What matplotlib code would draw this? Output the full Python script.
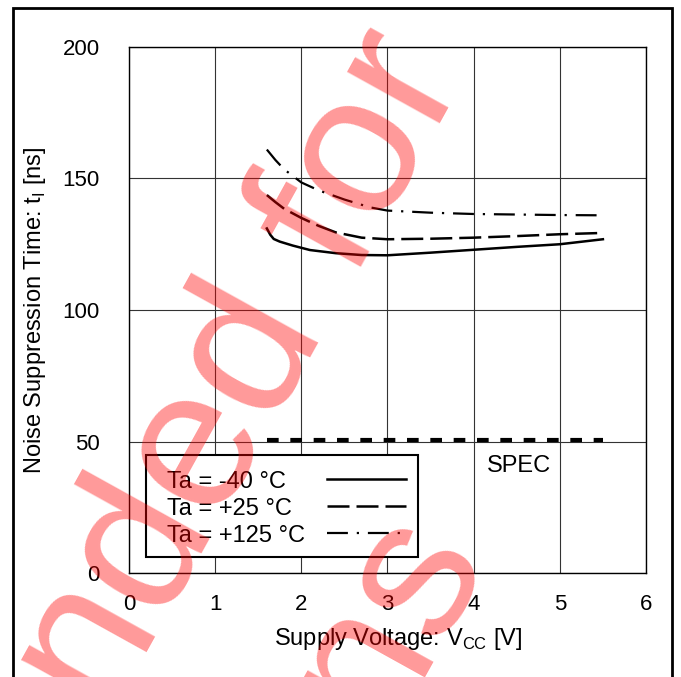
"""
Noise suppression time vs supply voltage (datasheet characteristic curve).
"""
import matplotlib

matplotlib.use("Agg")
import matplotlib.pyplot as plt
from matplotlib.patches import Rectangle

plt.rcParams["font.family"] = ["Liberation Sans", "DejaVu Sans"]
plt.rcParams["mathtext.fontset"] = "custom"
plt.rcParams["mathtext.rm"] = "Liberation Sans"

# curves
vcc_m40 = [1.6, 1.64, 1.68, 1.75, 1.9, 2.1, 2.4, 2.7, 3.0, 3.5, 4.0, 4.5, 5.0, 5.5]
tl_m40 = [131, 128.6, 127, 126, 124.5, 122.8, 121.6, 120.9, 120.8, 121.8, 122.9, 124, 125, 126.9]

vcc_25 = [1.6, 1.7, 1.8, 2.0, 2.2, 2.4, 2.7, 3.0, 3.5, 4.0, 4.5, 5.0, 5.5]
tl_25 = [143.7, 141, 138.5, 135, 132, 129.5, 127.5, 126.9, 127.1, 127.5, 128.1, 128.8, 129.3]

vcc_125 = [1.6, 1.7, 1.8, 2.0, 2.2, 2.5, 2.8, 3.0, 3.5, 4.0, 4.5, 5.0, 5.5]
tl_125 = [161, 157, 153.5, 148.5, 145.5, 142, 139, 137.8, 137, 136.5, 136.3, 136.1, 136]

spec_vcc = [1.6, 5.5]
spec_tl = [50.5, 50.5]

x_ticks = [0, 1, 2, 3, 4, 5, 6]
y_ticks = [0, 50, 100, 150, 200]
labels = ["Ta = -40 °C", "Ta = +25 °C", "Ta = +125 °C"]

fig = plt.figure(figsize=(6.81, 6.77), dpi=100)
ax = fig.add_axes([0.1894, 0.1536, 0.7592, 0.7770])

styles = [
    dict(lw=1.8),
    dict(lw=1.8, dashes=(8.8, 2.8)),
    dict(lw=1.6, dashes=(9.4, 4, 1, 4)),
]
for xs, ys, st in zip([vcc_m40, vcc_25, vcc_125], [tl_m40, tl_25, tl_125], styles):
    ax.plot(xs, ys, color="black", **st)
ax.plot(spec_vcc, spec_tl, color="black", lw=3, dashes=(2.8, 2.8))
ax.text(4.53, 38.4, "SPEC", fontsize=17, ha="center", va="baseline")

ax.set_xlim(0, 6)
ax.set_ylim(0, 200)
ax.set_xticks(x_ticks)
ax.set_yticks(y_ticks)
ax.tick_params(length=0, labelsize=16)
ax.tick_params(axis="x", pad=15)
ax.tick_params(axis="y", pad=21)
ax.grid(True, color="#333333", lw=0.8)
for s in ax.spines.values():
    s.set_linewidth(1.0)

ax.set_xlabel("Supply Voltage: V$_\\mathregular{CC}$ [V]", fontsize=17)
ax.set_ylabel("Noise Suppression Time: t$_\\mathregular{I}$ [ns]", fontsize=17)
ax.xaxis.set_label_coords(0.520, -0.100)
ax.yaxis.set_label_coords(-0.157, 0.5)

# legend drawn by hand: labels left-aligned, line samples on the right
ax.add_patch(Rectangle((0.0329, 0.0304), 0.5261, 0.1939, transform=ax.transAxes,
                       facecolor="white", edgecolor="black", lw=1.5, zorder=5))
row_text_y = [0.1616, 0.1103, 0.0596]
row_line_y = [0.1787, 0.1274, 0.0760]
for lab, st, ty, ly in zip(labels, styles, row_text_y, row_line_y):
    ax.text(0.0735, ty, lab, fontsize=17, ha="left", va="baseline",
            transform=ax.transAxes, zorder=6)
    ax.plot([0.383, 0.536], [ly, ly], color="black", transform=ax.transAxes,
            zorder=6, **st)

# outer page frame
fig.patches.append(Rectangle((13 / 681, -0.05), 659 / 681, 1.05 - 8 / 677, transform=fig.transFigure,
                             fill=False, lw=2, edgecolor="black", clip_on=False))

# watermark
wm = dict(fontsize=145, color="red", alpha=0.4, rotation=61, rotation_mode="anchor",
          ha="right", va="baseline", zorder=10)
fig.text(466.8 / 681, 1 - 75.6 / 677, "Not Recommended for", **wm)
fig.text(490 / 681, 1 - 562 / 677, "New Designs", **wm)

plt.savefig("out.png", dpi=100)
